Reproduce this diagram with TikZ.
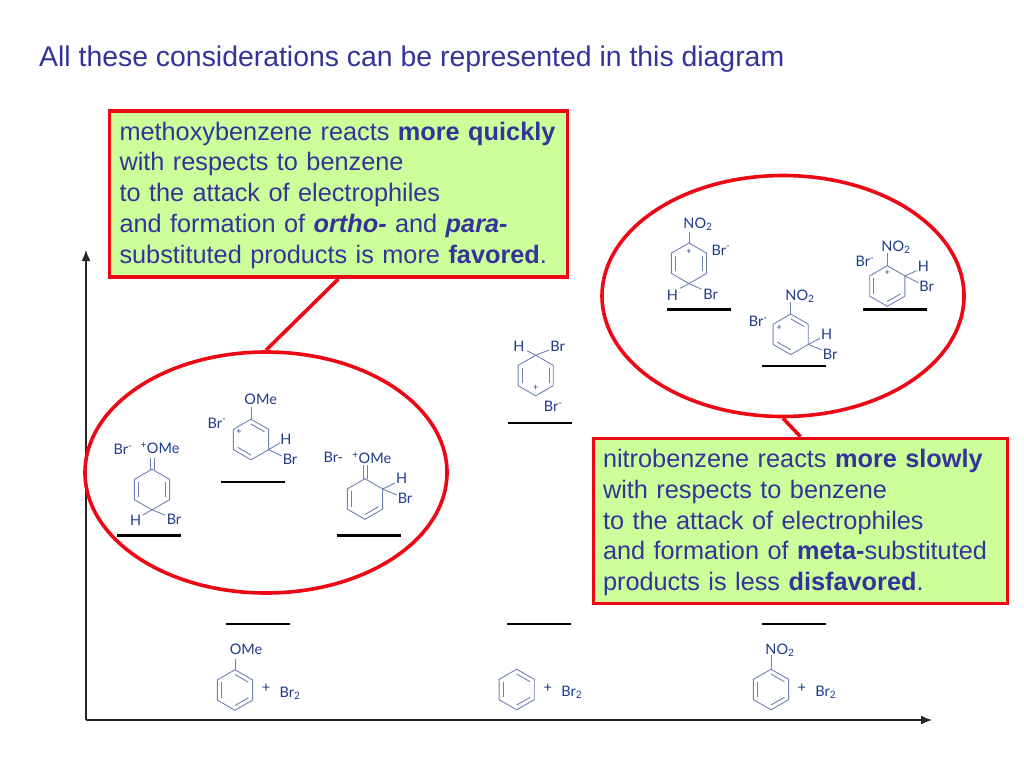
\documentclass[tikz,border=0pt]{standalone}
\usepackage{fontspec}
\setmainfont{Liberation Sans}
\newfontfamily\chemfont{Lato}
\usetikzlibrary{shapes.geometric,arrows.meta}
\definecolor{slideblue}{RGB}{51,51,153}
\definecolor{chemblue}{RGB}{28,58,140}
\definecolor{ringblue}{RGB}{112,128,176}
\definecolor{boxgreen}{RGB}{204,255,153}
\definecolor{markred}{RGB}{236,8,20}
\tikzset{
  redbox/.style={draw=markred,line width=3.6pt,fill=boxgreen,text=slideblue,font=\fontsize{25.3}{30.75}\selectfont,align=left,inner sep=0pt},
  redring/.style={ellipse,draw=markred,line width=3.6pt,inner sep=0pt,minimum width=362pt,minimum height=241pt},
  redlink/.style={draw=markred,line width=3.6pt},
  level/.style={line width=2.4pt,black},
  axisline/.style={line width=1.4pt,black!85,-{Latex[length=11pt,width=9pt]}},
  ringline/.style={line width=0.9pt,ringblue},
  chemlabel/.style={text=chemblue,font=\chemfont\fontsize{14.5}{14.5}\selectfont,inner sep=0pt}
}
\newcommand{\benzring}[2]{\begin{scope}[shift={(#1,#2)}]
  \draw[ringline] (-90:20.3) -- (-30:20.3) -- (30:20.3) -- (90:20.3) -- (150:20.3) -- (210:20.3) -- cycle;
\end{scope}}
\newcommand{\dblbond}[3]{\begin{scope}[shift={(#1,#2)}]
  \draw[ringline] ({-90+60*#3}:15.5) -- ({-30+60*#3}:15.5);
\end{scope}}
\begin{document}
\begin{tikzpicture}[x=1pt,y=-1pt]
\useasboundingbox (0,0) rectangle (1024,768);
\node[anchor=base west,text=slideblue,inner sep=0pt,font=\fontsize{28.4}{32}\selectfont] (title) at (39,66.5) {All these considerations can be represented in this diagram};
% axes
\coordinate (origin) at (86,720);
\coordinate (xtip) at (932,720);
\coordinate (ytip) at (86,250);
\draw[axisline] (origin) -- (xtip);
\draw[axisline] (origin) -- (ytip);
% callouts
\node[redring] (ringA) at (266,472.5) {};
\node[redring] (ringB) at (783,296) {};
\node[redbox,minimum width=458pt,minimum height=166pt,text width=438pt] (boxA) at (338.5,194)
 {\rule{0pt}{20.5pt}methoxybenzene reacts \textbf{more quickly}\\
  with respects to benzene\\
  to the attack of electrophiles\\
  and formation of \textbf{\textit{ortho-}} and \textbf{\textit{para-}}\\
  substituted products is more \textbf{favored}.};
\node[redbox,minimum width=414pt,minimum height=165pt,text width=395pt] (boxB) at (800.5,521)
 {\rule{0pt}{21.5pt}nitrobenzene reacts \textbf{more slowly}\\
  with respects to benzene\\
  to the attack of electrophiles\\
  and formation of \textbf{meta-}substituted\\
  products is less \textbf{disfavored}.};
\draw[redlink] (boxA.south) -- (ringA.north);
\draw[redlink] (boxB.north) -- (ringB.south);
% energy levels
\draw[level] (226,624) -- (290,624);
\draw[level] (507,624) -- (571,624);
\draw[level] (762,624) -- (826,624);
\draw[level] (117,535.5) -- (181,535.5);
\draw[level] (221,482) -- (285,482);
\draw[level] (337,535.5) -- (401,535.5);
\draw[level] (508,422.7) -- (572,422.7);
\draw[level] (667,309.5) -- (731,309.5);
\draw[level] (762,366) -- (826,366);
\draw[level] (863,309.5) -- (927,309.5);
% reactants
\benzring{235}{690}
\dblbond{235}{690}{0}\dblbond{235}{690}{2}\dblbond{235}{690}{4}
\draw[ringline] (235,669.7) -- (235,659);
\node[chemlabel] (omeR) at (246,649.3) {OMe};
\node[chemlabel] (plusA) at (266,688) {+};
\node[chemlabel] (brA) at (290,693) {Br\textsubscript{2}};
\benzring{516.7}{689.5}
\dblbond{516.7}{689.5}{0}\dblbond{516.7}{689.5}{2}\dblbond{516.7}{689.5}{4}
\node[chemlabel] (plusB) at (547.7,688) {+};
\node[chemlabel] (brB) at (571.7,692) {Br\textsubscript{2}};
\benzring{771}{689.5}
\dblbond{771}{689.5}{0}\dblbond{771}{689.5}{2}\dblbond{771}{689.5}{4}
\draw[ringline] (771,669.2) -- (771,655);
\node[chemlabel] (noR) at (780,650) {NO\textsubscript{2}};
\node[chemlabel] (plusC) at (801.7,688) {+};
\node[chemlabel] (brC) at (825.7,692) {Br\textsubscript{2}};
% methoxy para
\benzring{152}{489.5}
\dblbond{152}{489.5}{1}\dblbond{152}{489.5}{4}
\draw[ringline] (150,469.5) -- (150,458) (154,469.5) -- (154,458);
\draw[ringline] (152,509.8) -- (143,515) (152,509.8) -- (165,515);
\node[chemlabel] (brmA) at (123,449.5) {Br\textsuperscript{-}};
\node[chemlabel] (omeA) at (160,448) {\textsuperscript{+}OMe};
\node[chemlabel] (hA) at (135.7,520) {H};
\node[chemlabel] (brhA) at (174,519.5) {Br};
% methoxy meta
\benzring{251}{439.5}
\dblbond{251}{439.5}{0}\dblbond{251}{439.5}{3}
\draw[ringline] (251,419.2) -- (251,407);
\draw[ringline] (268.6,449.6) -- (280,443) (268.6,449.6) -- (281.7,456);
\node[chemlabel] (plusD) at (239,432) {\small +};
\node[chemlabel] (omeB) at (260.7,399) {OMe};
\node[chemlabel] (brmB) at (217,423) {Br\textsuperscript{-}};
\node[chemlabel] (hB) at (286,439.5) {H};
\node[chemlabel] (brhB) at (290,459.5) {Br};
% methoxy ortho
\benzring{365}{499}
\dblbond{365}{499}{2}\dblbond{365}{499}{4}
\draw[ringline] (363,478.7) -- (363,465) (367,478.7) -- (367,465);
\draw[ringline] (382.6,489) -- (395,483) (382.6,489) -- (396.7,495);
\node[chemlabel] (brmC) at (333.3,457.5) {Br-};
\node[chemlabel] (omeC) at (371.7,458) {\textsuperscript{+}OMe};
\node[chemlabel] (hC) at (401.7,478.5) {H};
\node[chemlabel] (brhC) at (405,498.5) {Br};
% benzene
\benzring{535.7}{375.5}
\dblbond{535.7}{375.5}{1}\dblbond{535.7}{375.5}{4}
\draw[ringline] (535.7,355.2) -- (526.7,350.7) (535.7,355.2) -- (549.3,350);
\node[chemlabel] (plusE) at (535.7,388) {\small +};
\node[chemlabel] (hE) at (519,346) {H};
\node[chemlabel] (brhE) at (557.7,346) {Br};
\node[chemlabel] (brmE) at (553.3,406.5) {Br\textsuperscript{-}};
% nitro para
\benzring{689}{263.3}
\dblbond{689}{263.3}{1}\dblbond{689}{263.3}{4}
\draw[ringline] (689,243) -- (689,231.7);
\draw[ringline] (689,283.6) -- (680,288.3) (689,283.6) -- (701.7,289.3);
\node[chemlabel] (plusF) at (689,251.7) {\small +};
\node[chemlabel] (noF) at (698,224.5) {NO\textsubscript{2}};
\node[chemlabel] (brmF) at (721,250) {Br\textsuperscript{-}};
\node[chemlabel] (hF) at (672.3,295) {H};
\node[chemlabel] (brhF) at (710.7,294.5) {Br};
% nitro meta
\benzring{790.7}{334.3}
\dblbond{790.7}{334.3}{0}\dblbond{790.7}{334.3}{3}
\draw[ringline] (790.7,314) -- (790.7,301.7);
\draw[ringline] (808.3,344.4) -- (820,338.3) (808.3,344.4) -- (821.7,350);
\node[chemlabel] (plusG) at (779.3,328.3) {\small +};
\node[chemlabel] (noG) at (800,296) {NO\textsubscript{2}};
\node[chemlabel] (brmG) at (758.3,321.7) {Br\textsuperscript{-}};
\node[chemlabel] (hG) at (826.7,334) {H};
\node[chemlabel] (brhG) at (830,354.5) {Br};
% nitro ortho
\benzring{887.3}{286}
\dblbond{887.3}{286}{2}\dblbond{887.3}{286}{4}
\draw[ringline] (887.3,265.7) -- (887.3,253.3);
\draw[ringline] (904.9,275.9) -- (916.7,270.7) (904.9,275.9) -- (918.3,282.7);
\node[chemlabel] (plusH) at (887.3,273.3) {\small +};
\node[chemlabel] (noH) at (896,247) {NO\textsubscript{2}};
\node[chemlabel] (brmH) at (865,261.7) {Br\textsuperscript{-}};
\node[chemlabel] (hH) at (923.3,266) {H};
\node[chemlabel] (brhH) at (926.7,286.7) {Br};
\end{tikzpicture}
\end{document}
